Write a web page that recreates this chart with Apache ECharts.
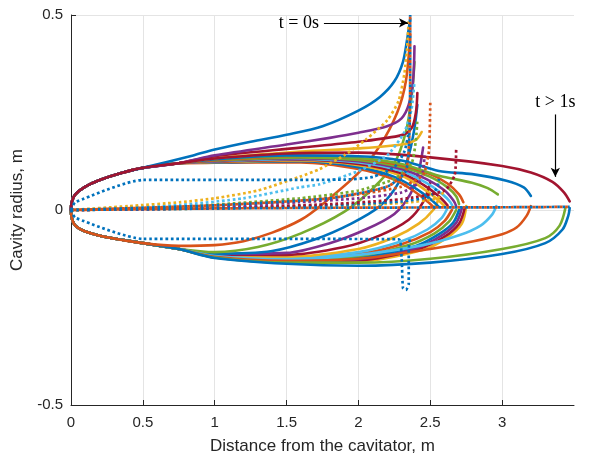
<!DOCTYPE html>
<html><head><meta charset="utf-8">
<script src="https://cdn.jsdelivr.net/npm/echarts@6/dist/echarts.min.js"></script>
<style>html,body{margin:0;padding:0;background:#fff}#c{width:590px;height:460px}</style>
</head><body><div id="c"></div>
<script>
// ---------------- axes / labels ----------------
const xTicks = [0, 0.5, 1, 1.5, 2, 2.5, 3];
const yTicks = [-0.5, 0, 0.5];
const xName = 'Distance from the cavitator, m';
const yName = 'Cavity radius, m';
const C = ['#0072BD','#D95319','#EDB120','#7E2F8E','#77AC30','#4DBEEE','#A2142F'];

// ---------------- shared starts of profiles (read near the cavitator) ----------------
const upStart  = [[0,0],[0.005,0.02],[0.03,0.04],[0.1,0.06],[0.2,0.077],[0.35,0.095],[0.5,0.108],[0.75,0.12]];
const lowStart = [[0,0],[0.005,-0.02],[0.03,-0.04],[0.1,-0.055],[0.25,-0.07],[0.5,-0.085],[0.75,-0.1]];

// ---------------- upper solid branches ----------------
const uMidOr1 = [[1,0.121],[1.6,0.122],[2,0.105],[2.25,0.078],[2.38,0.05],[2.48,0.022],[2.53,0.005]];
const uMidBl  = [[1,0.122],[1.6,0.125],[2,0.11],[2.25,0.085],[2.4,0.055],[2.5,0.028],[2.56,0.008]];
const uMidYe  = [[1,0.123],[1.6,0.127],[2,0.115],[2.3,0.088],[2.44,0.058],[2.54,0.03],[2.6,0.01]];
const uMidRd  = [[1,0.124],[1.6,0.129],[2,0.118],[2.3,0.094],[2.45,0.065],[2.56,0.035],[2.62,0.012]];
const uMidLB  = [[1,0.125],[1.6,0.131],[2,0.122],[2.3,0.1],[2.47,0.07],[2.58,0.042],[2.64,0.02],[2.66,0.005]];
const uMidPu  = [[1,0.126],[1.6,0.133],[2,0.125],[2.3,0.105],[2.48,0.078],[2.6,0.05],[2.66,0.025],[2.68,0.01]];
const uMidGr  = [[1,0.127],[1.6,0.135],[2,0.128],[2.3,0.11],[2.5,0.085],[2.62,0.058],[2.68,0.035],[2.7,0.015]];
const uMidOr2 = [[1,0.128],[1.6,0.138],[2,0.132],[2.3,0.115],[2.5,0.092],[2.62,0.068],[2.7,0.04],[2.73,0.02]];
const uEarlyYe = [[1,0.133],[1.6,0.15],[2,0.158],[2.3,0.168],[2.4,0.18],[2.44,0.2]];
const uEarlyRd = [[1,0.138],[1.6,0.16],[2,0.175],[2.3,0.192],[2.37,0.21],[2.4,0.25],[2.41,0.3]];
const uEarlyPu = [[1,0.14],[1.5,0.168],[1.8,0.185],[2,0.198],[2.2,0.215],[2.3,0.235],[2.35,0.27],[2.38,0.33],[2.39,0.42]];
const uEarlyBl = [[0.85,0.14],[1,0.155],[1.25,0.175],[1.5,0.193],[1.75,0.215],[2,0.255],[2.15,0.29],[2.25,0.33],[2.31,0.38],[2.34,0.44],[2.36,0.49]];
const uLongGr = [[1,0.13],[1.5,0.138],[2,0.133],[2.3,0.118],[2.56,0.088],[2.79,0.07],[2.9,0.056],[2.97,0.04]];
const uLongBl = [[1,0.13],[1.5,0.14],[2,0.138],[2.3,0.127],[2.56,0.1],[2.79,0.092],[3.03,0.075],[3.15,0.058],[3.2,0.036]];
const uLongRd = [[1,0.132],[1.5,0.145],[2,0.147],[2.5,0.135],[3,0.113],[3.2,0.096],[3.35,0.072],[3.43,0.045],[3.47,0.022]];

// ---------------- lower solid branches ----------------
const lEarlyOr = [[0.75,-0.092],[1,-0.09],[1.2,-0.08],[1.4,-0.058],[1.6,-0.025],[1.75,0.015],[2,0.095],[2.15,0.165],[2.27,0.25],[2.33,0.33],[2.36,0.45]];
const lEarlyGr = [[1,-0.108],[1.3,-0.095],[1.6,-0.06],[1.9,-0.005],[2.1,0.055],[2.25,0.12],[2.33,0.2],[2.37,0.29],[2.39,0.38]];
const lEarlyBl = [[1,-0.112],[1.4,-0.105],[1.7,-0.075],[1.95,-0.035],[2.15,0.01],[2.28,0.07],[2.35,0.14],[2.39,0.21],[2.41,0.27]];
const lEarlyPu = [[1,-0.113],[1.5,-0.11],[1.8,-0.085],[2.05,-0.05],[2.25,-0.01],[2.36,0.04],[2.42,0.1],[2.45,0.16]];
const lEarlyRd = [[1,-0.114],[1.5,-0.115],[1.9,-0.095],[2.15,-0.065],[2.35,-0.025],[2.45,0.02],[2.5,0.07]];
const lEarlyYe = [[1,-0.115],[1.5,-0.12],[2,-0.1],[2.25,-0.07],[2.42,-0.035],[2.52,0.0],[2.56,0.03]];
const lMidLB = [[1,-0.116],[1.5,-0.122],[2,-0.108],[2.3,-0.08],[2.48,-0.05],[2.58,-0.02],[2.62,0.005]];
const lMidOr = [[1,-0.117],[1.5,-0.125],[2,-0.113],[2.3,-0.088],[2.5,-0.057],[2.6,-0.028],[2.65,0.0]];
const lMidGr = [[1,-0.118],[1.5,-0.127],[2,-0.118],[2.35,-0.09],[2.53,-0.06],[2.63,-0.03],[2.68,0.0]];
const lMidBl = [[1,-0.119],[1.5,-0.129],[2,-0.122],[2.4,-0.092],[2.56,-0.062],[2.66,-0.032],[2.7,0.0]];
const lMidPu = [[1,-0.12],[1.5,-0.131],[2,-0.126],[2.4,-0.098],[2.58,-0.065],[2.68,-0.033],[2.72,0.005]];
const lMidRd = [[1,-0.121],[1.5,-0.132],[2,-0.129],[2.42,-0.1],[2.6,-0.068],[2.7,-0.035],[2.74,0.005]];
const lMidYe = [[1,-0.122],[1.5,-0.134],[2,-0.132],[2.45,-0.102],[2.62,-0.07],[2.72,-0.035],[2.75,0.01]];
const lLongLB = [[1,-0.118],[1.5,-0.126],[2,-0.115],[2.45,-0.09],[2.7,-0.065],[2.85,-0.04],[2.93,-0.012],[2.96,0.01]];
const lLongOr = [[1,-0.12],[1.5,-0.13],[2,-0.125],[2.5,-0.1],[2.8,-0.08],[3.0,-0.062],[3.1,-0.045],[3.17,-0.015],[3.2,0.01]];
const lLongGr = [[1,-0.122],[1.5,-0.135],[2,-0.135],[2.5,-0.125],[3.0,-0.1],[3.3,-0.072],[3.4,-0.04],[3.44,0.005]];
const lLongBl = [[1,-0.123],[1.5,-0.138],[2,-0.143],[2.5,-0.135],[3,-0.113],[3.3,-0.085],[3.42,-0.05],[3.46,-0.015],[3.47,0.005]];

// ---------------- dotted curves ----------------
const dBase   = [[0,0],[1,0.004],[2,0.006],[3,0.007],[3.47,0.008]];
const dBoxUp  = [[0,0],[0.03,0.02],[0.5,0.077],[1,0.077],[1.9,0.078],[2.1,0.085],[2.25,0.11],[2.32,0.15],[2.35,0.2]];
const dBoxLow = [[0,0],[0.03,-0.02],[0.5,-0.074],[1,-0.074],[2.28,-0.075],[2.3,-0.12],[2.31,-0.2],[2.33,-0.205],[2.35,-0.19],[2.35,-0.1],[2.36,-0.07]];
const dYellow = [[0,0],[0.4,0.01],[0.76,0.02],[1,0.03],[1.3,0.05],[1.59,0.085],[1.73,0.105],[1.9,0.14],[2.05,0.18],[2.2,0.23],[2.28,0.28],[2.32,0.35],[2.34,0.42],[2.35,0.49]];
const dSpike0 = [[0,0],[1,0.012],[1.8,0.03],[2.2,0.06],[2.33,0.1],[2.355,0.2],[2.36,0.35],[2.36,0.5]];
const dLBlue  = [[0,0],[0.76,0.013],[1.2,0.03],[1.59,0.058],[1.73,0.066],[2,0.1],[2.2,0.14],[2.32,0.2],[2.37,0.26],[2.39,0.33]];
const dGreen  = [[0,0],[0.76,0.008],[1.59,0.03],[2,0.05],[2.25,0.08],[2.37,0.12],[2.4,0.18],[2.41,0.23]];
const dOrange = [[0,0],[0.76,0.007],[1.59,0.025],[2,0.04],[2.3,0.06],[2.45,0.09],[2.49,0.15],[2.5,0.28]];
const dPurple = [[0,0],[1,0.006],[1.59,0.02],[2,0.03],[2.3,0.045],[2.42,0.07],[2.45,0.1],[2.46,0.14]];
const dRed    = [[0,0],[1,0.005],[1.8,0.015],[2.3,0.028],[2.6,0.05],[2.67,0.09],[2.68,0.155]];
const dBlue   = [[0,0],[1,0.004],[1.8,0.012],[2.3,0.022],[2.5,0.035],[2.55,0.06],[2.56,0.08]];
const dYellow2= [[0,0],[1,0.004],[1.8,0.01],[2.3,0.018],[2.55,0.03],[2.6,0.05]];

// ---------------- annotations (data coordinates) ----------------
const annT0 = {from:[1.76,0.48], to:[2.345,0.48]};
const annT1 = {from:[3.37,0.245], to:[3.37,0.085]};

// ---------------- build series ----------------
function solid(pts, color){
  return {type:'line', data:pts, smooth:0.3, showSymbol:false, silent:true,
    lineStyle:{color:color, width:2.6, cap:'round', join:'round'}};
}
function dotted(pts, color, off){
  return {type:'line', data:pts, smooth:0.2, showSymbol:false, silent:true,
    lineStyle:{color:color, width:2.7, type:[2.7,2.7], dashOffset:off||0}};
}
const U = a => upStart.concat(a);
const L = a => lowStart.concat(a);

const series = [
  solid(L(lMidYe), C[2]), solid(L(lMidRd), C[6]), solid(L(lMidPu), C[3]), solid(L(lMidBl), C[0]),
  solid(L(lMidGr), C[4]), solid(L(lMidOr), C[1]), solid(L(lMidLB), C[5]),
  solid(L(lEarlyYe), C[2]), solid(L(lEarlyRd), C[6]), solid(L(lEarlyPu), C[3]),
  solid(L(lEarlyBl), C[0]), solid(L(lEarlyGr), C[4]),
  solid(L(lLongLB), C[5]), solid(L(lLongOr), C[1]), solid(L(lLongGr), C[4]), solid(L(lLongBl), C[0]),
  solid(lowStart.slice(0,6).concat(lEarlyOr), C[1]),
  solid(U(uMidOr1), C[1]), solid(U(uMidBl), C[0]), solid(U(uMidYe), C[2]), solid(U(uMidRd), C[6]),
  solid(U(uMidLB), C[5]), solid(U(uMidPu), C[3]), solid(U(uMidGr), C[4]), solid(U(uMidOr2), C[1]),
  solid(U(uLongGr), C[4]), solid(U(uLongBl), C[0]),
  solid(U(uEarlyYe), C[2]), solid(U(uEarlyRd), C[6]), solid(U(uEarlyPu), C[3]),
  solid(upStart.slice(0,7).concat(uEarlyBl), C[0]),
  solid(U(uLongRd), C[6]),
  dotted(dYellow2, C[2]), dotted(dBlue, C[0]), dotted(dRed, C[6]), dotted(dPurple, C[3]),
  dotted(dOrange, C[1]), dotted(dGreen, C[4]), dotted(dLBlue, C[5]), dotted(dYellow, C[2]),
  dotted(dSpike0, C[0]), dotted(dSpike0, C[1], 2.7),
  dotted(dBoxUp, C[0]), dotted(dBoxLow, C[0]),
  dotted(dBase, C[0]), dotted(dBase, C[1], 2.7)
];

const arrowLabel = (txt, dist) => ({
  show:true, position:'start', distance:dist,
  formatter: txt, color:'#000', fontFamily:'Liberation Serif', fontSize:18
});
series.push({
  type:'line', data:[], silent:true,
  markLine:{silent:true, symbol:['none','arrow'], symbolSize:[7,9], animation:false,
    lineStyle:{color:'#000', width:1.2, type:'solid'},
    data:[
      [{coord:annT0.from, label:arrowLabel('t = 0s', 5)}, {coord:annT0.to}],
      [{coord:annT1.from, label:arrowLabel('t > 1s', 3)}, {coord:annT1.to}]
    ]}
});

const chart = echarts.init(document.getElementById('c'), null, {renderer:'canvas'});
chart.setOption({
  animation:false,
  backgroundColor:'#fff',
  grid:{left:71, right:16, top:15, bottom:53, containLabel:false},
  xAxis:{type:'value', min:0, max:3.5, interval:0.5,
    name:xName, nameLocation:'middle', nameGap:33,
    nameTextStyle:{fontFamily:'Liberation Sans', fontSize:17, color:'#262626'},
    axisLine:{show:true, onZero:false, lineStyle:{color:'#262626', width:1}},
    axisTick:{show:true, inside:true, length:5, lineStyle:{color:'#262626'}},
    axisLabel:{showMaxLabel:false, fontFamily:'Liberation Sans', fontSize:15, color:'#262626', margin:10,
      formatter:v => xTicks.includes(v) ? String(v) : ''},
    splitLine:{show:true, showMaxLine:false, lineStyle:{color:'#e4e4e4', width:1}}
  },
  yAxis:{type:'value', min:-0.5, max:0.5, interval:0.5,
    name:yName, nameLocation:'middle', nameGap:40,
    nameTextStyle:{fontFamily:'Liberation Sans', fontSize:17, color:'#262626'},
    axisLine:{show:true, onZero:false, lineStyle:{color:'#262626', width:1}},
    axisTick:{show:true, inside:true, length:5, lineStyle:{color:'#262626'}},
    axisLabel:{fontFamily:'Liberation Sans', fontSize:15, color:'#262626', margin:8,
      formatter:v => yTicks.includes(v) ? String(v) : ''},
    splitLine:{show:true, lineStyle:{color:'#e4e4e4', width:1}}
  },
  series: series
});
</script></body></html>
